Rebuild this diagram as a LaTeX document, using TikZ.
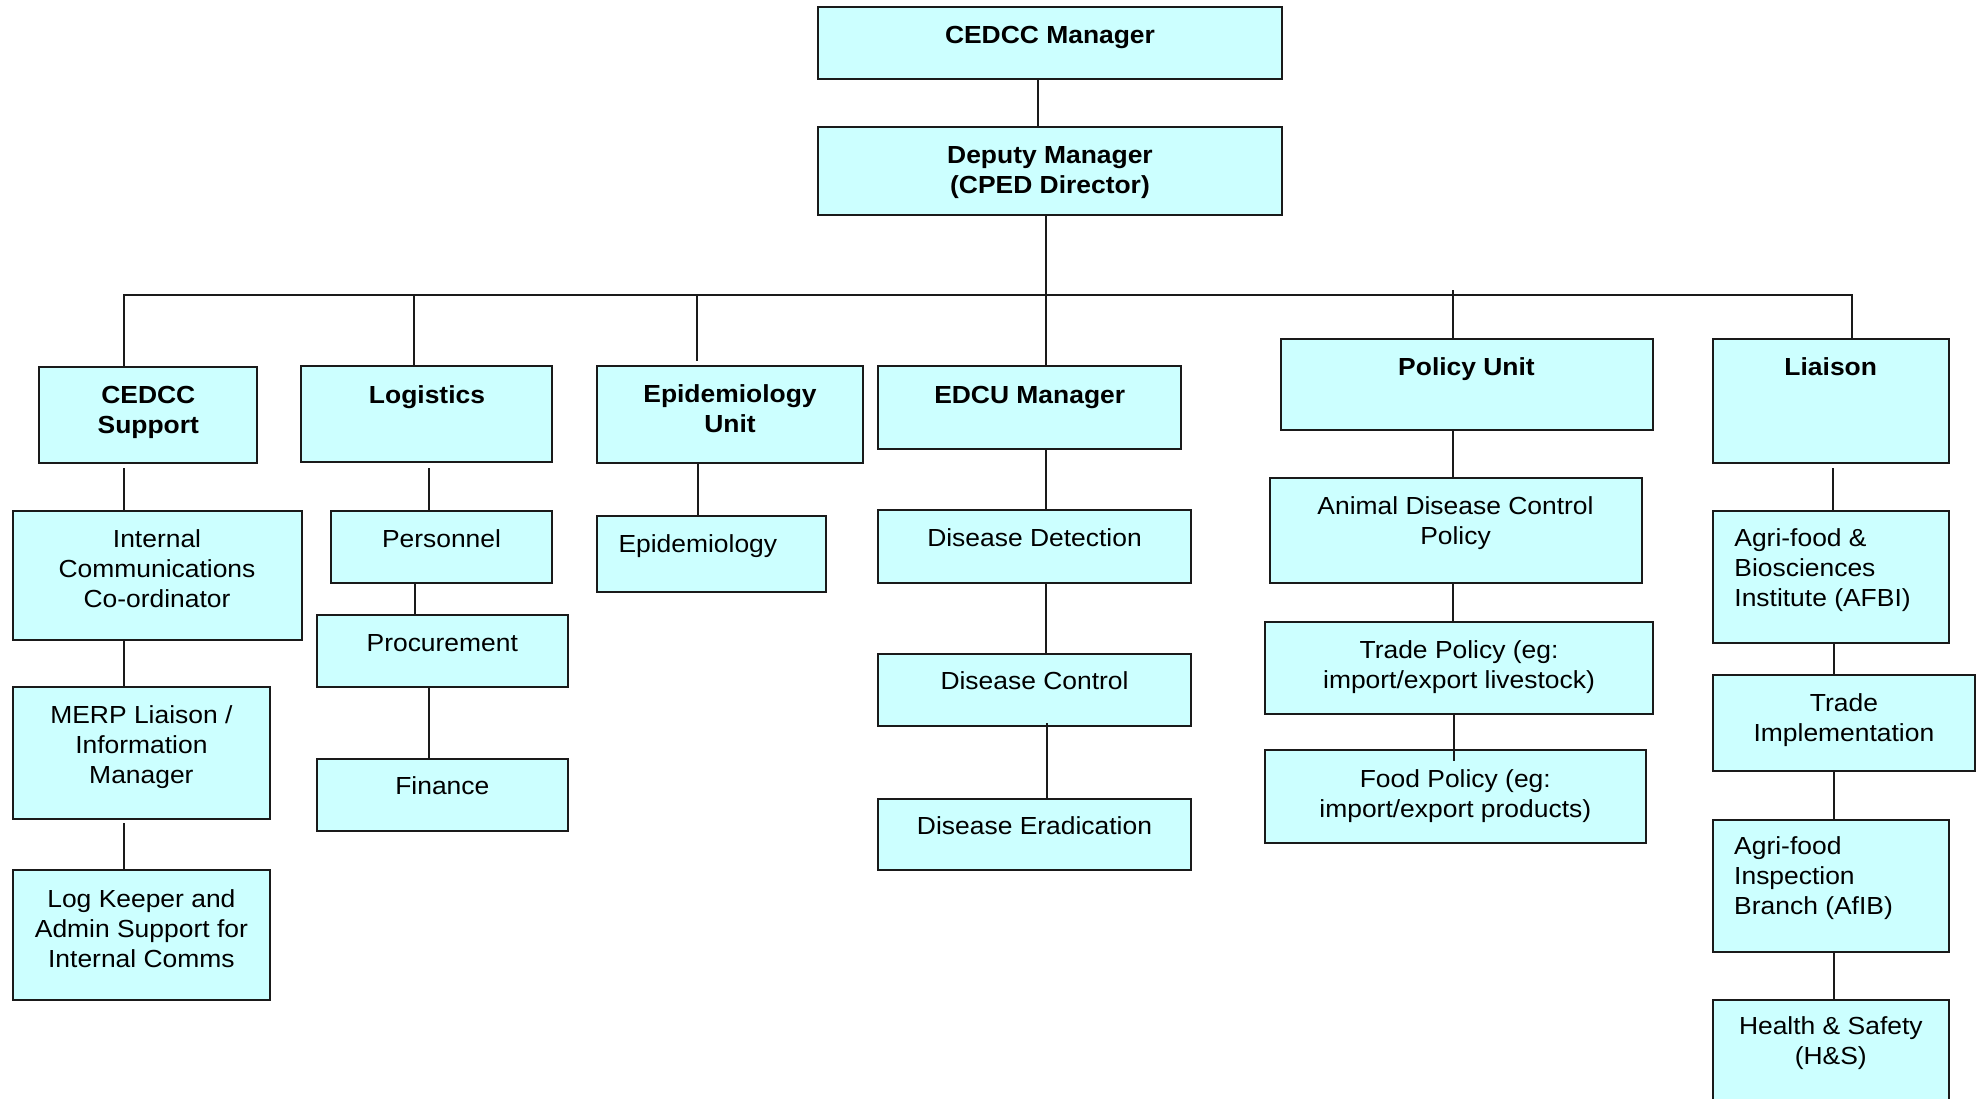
\documentclass[tikz,border=0pt]{standalone}
\usepackage{fontspec}
\setmainfont{Liberation Sans}[FakeStretch=1.07]
\usetikzlibrary{calc}

\definecolor{boxfill}{RGB}{204,255,255}
\definecolor{boxline}{RGB}{26,26,26}

% multi-line label whose reference point is the first baseline
\newcommand\stack[2][c]{\begin{tabular}[t]{@{}#1@{}}#2\end{tabular}}
% box given by its top-left and bottom-right corners (in px)
\newcommand\orgbox[5]{%
  \pgfmathsetmacro\obw{#4-#2}%
  \pgfmathsetmacro\obh{#5-#3}%
  \node[orgbox, minimum width=\obw pt, minimum height=\obh pt] (#1) at (#2,#3) {};}

\tikzset{
  orgbox/.style={draw=boxline, fill=boxfill, line width=2pt, rectangle,
                 inner sep=0pt, outer sep=0pt, anchor=north west},
  lbl/.style={inner sep=0pt, anchor=base, font=\fontsize{24.7}{30}\selectfont},
  head/.style={lbl, font=\fontsize{24.7}{30}\selectfont\bfseries},
  lbll/.style={lbl, anchor=base west},
  conn/.style={draw=boxline, line width=2pt},
}

\begin{document}
\begin{tikzpicture}[x=1pt, y=-1pt]
\useasboundingbox (0,0) rectangle (1980,1098);
\fill[white] (0,0) rectangle (1980,1098);
\clip (0,0) rectangle (1980,1098);

% ---- boxes ----
\orgbox{mgr}{818}{7}{1282}{79}
\orgbox{dep}{818}{127}{1282}{215}

\orgbox{sup}{39}{367}{257}{463}
\orgbox{log}{301}{366}{552}{462}
\orgbox{epu}{597}{366}{863}{463}
\orgbox{edcu}{878}{366}{1181}{449}
\orgbox{pol}{1281}{339}{1653}{430}
\orgbox{lia}{1713}{339}{1949}{463}

\orgbox{ic}{13}{511}{302}{640}
\orgbox{merp}{13}{687}{270}{819}
\orgbox{logk}{13}{870}{270}{1000}

\orgbox{pers}{331}{511}{552}{583}
\orgbox{proc}{317}{615}{568}{687}
\orgbox{fin}{317}{759}{568}{831}

\orgbox{epi}{597}{516}{826}{592}

\orgbox{det}{878}{510}{1191}{583}
\orgbox{ctl}{878}{654}{1191}{726}
\orgbox{era}{878}{799}{1191}{870}

\orgbox{adcp}{1270}{478}{1642}{583}
\orgbox{tp}{1265}{622}{1653}{714}
\orgbox{fp}{1265}{750}{1646}{843}

\orgbox{afbi}{1713}{511}{1949}{643}
\orgbox{ti}{1713}{675}{1975}{771}
\orgbox{afib}{1713}{820}{1949}{952}
\orgbox{hs}{1713}{1000}{1949}{1115}

% ---- labels ----
\node[head] (mgr-t) at (1050,43.5) {CEDCC Manager};
\node[head] (dep-t) at (1050,163.3) {\stack{Deputy Manager\\(CPED Director)}};

\node[head] (sup-t) at (148.3,403) {\stack{CEDCC\\Support}};
\node[head] (log-t) at (427,403) {Logistics};
\node[head] (epu-t) at (730,402.5) {\stack{Epidemiology\\Unit}};
\node[head] (edcu-t) at (1029.7,403) {EDCU Manager};
\node[head] (pol-t) at (1466.5,375) {Policy Unit};
\node[head] (lia-t) at (1830.7,375) {Liaison};

\node[lbl] (ic-t) at (157,547) {\stack{Internal\\Communications\\Co-ordinator}};
\node[lbl] (merp-t) at (141.4,723.5) {\stack{MERP Liaison /\\Information\\Manager}};
\node[lbl] (logk-t) at (141.4,907) {\stack{Log Keeper and\\Admin Support for\\Internal Comms}};

\node[lbl] (pers-t) at (441.5,547) {Personnel};
\node[lbl] (proc-t) at (442.3,651.5) {Procurement};
\node[lbl] (fin-t) at (442.3,794.5) {Finance};

\node[lbll] (epi-t) at (618.3,552) {Epidemiology};

\node[lbl] (det-t) at (1034.5,546.5) {Disease Detection};
\node[lbl] (ctl-t) at (1034.5,689.5) {Disease Control};
\node[lbl] (era-t) at (1034.5,834) {Disease Eradication};

\node[lbl] (adcp-t) at (1455.5,514.5) {\stack{Animal Disease Control\\Policy}};
\node[lbl] (tp-t) at (1459,658.5) {\stack{Trade Policy (eg:\\import/export livestock)}};
\node[lbl] (fp-t) at (1455.3,787) {\stack{Food Policy (eg:\\import/export products)}};

\node[lbll] (afbi-t) at (1734.2,546.5) {\stack[l]{Agri-food \&\\Biosciences\\Institute (AFBI)}};
\node[lbl] (ti-t) at (1843.9,711.5) {\stack{Trade\\Implementation}};
\node[lbll] (afib-t) at (1734,854.5) {\stack[l]{Agri-food\\Inspection\\Branch (AfIB)}};
\node[lbl] (hs-t) at (1830.8,1034.5) {\stack{Health \& Safety\\(H\&S)}};

% ---- connector columns ----
\coordinate (bus)  at (0,295);
\coordinate (xtop) at (1038,0);
\coordinate (xsup) at (124,0);
\coordinate (xlog) at (414,0);
\coordinate (xepu) at (697,0);
\coordinate (xedc) at (1046,0);
\coordinate (xpol) at (1453,0);
\coordinate (xlia) at (1852,0);

\coordinate (xic)  at (124,0);
\coordinate (xlg)  at (429,0);
\coordinate (xpr)  at (415,0);
\coordinate (xfi)  at (429,0);
\coordinate (xep)  at (698,0);
\coordinate (xd1)  at (1046,0);
\coordinate (xd2)  at (1046,0);
\coordinate (xd3)  at (1047,0);
\coordinate (xp1)  at (1453,0);
\coordinate (xp2)  at (1454,0);
\coordinate (xl1)  at (1833,0);
\coordinate (xl2)  at (1834,0);
\coordinate (xl3)  at (1834,0);

% ---- connectors ----
\draw[conn] (mgr.south -| xtop) -- (dep.north -| xtop);
\draw[conn] (dep.south -| xedc) -- (edcu.north -| xedc);

\draw[conn] (sup.north -| xsup) -- (xsup |- bus) -- (xlia |- bus) -- (lia.north -| xlia);
\draw[conn] (xlog |- bus) -- (log.north -| xlog);
\draw[conn] (xepu |- bus) -- ($(epu.north -| xepu)+(0,-5)$);
\draw[conn] ($(xpol |- bus)+(0,-5)$) -- (pol.north -| xpol);

\draw[conn] ($(sup.south -| xic)+(0,5)$) -- (ic.north -| xic);
\draw[conn] (ic.south -| xic) -- (merp.north -| xic);
\draw[conn] ($(merp.south -| xic)+(0,4)$) -- (logk.north -| xic);

\draw[conn] ($(log.south -| xlg)+(0,6)$) -- (pers.north -| xlg);
\draw[conn] (pers.south -| xpr) -- (proc.north -| xpr);
\draw[conn] (proc.south -| xfi) -- (fin.north -| xfi);

\draw[conn] (epu.south -| xep) -- (epi.north -| xep);

\draw[conn] (edcu.south -| xd1) -- (det.north -| xd1);
\draw[conn] (det.south -| xd2) -- (ctl.north -| xd2);
\draw[conn] ($(ctl.south -| xd3)+(0,-3)$) -- (era.north -| xd3);

\draw[conn] (pol.south -| xp1) -- (adcp.north -| xp1);
\draw[conn] (adcp.south -| xp1) -- (tp.north -| xp1);
\draw[conn] (tp.south -| xp2) -- ($(fp.north -| xp2)+(0,11)$);

\draw[conn] ($(lia.south -| xl1)+(0,5)$) -- (afbi.north -| xl1);
\draw[conn] (afbi.south -| xl2) -- (ti.north -| xl2);
\draw[conn] (ti.south -| xl3) -- (afib.north -| xl3);
\draw[conn] (afib.south -| xl3) -- (hs.north -| xl3);
\end{tikzpicture}
\end{document}
